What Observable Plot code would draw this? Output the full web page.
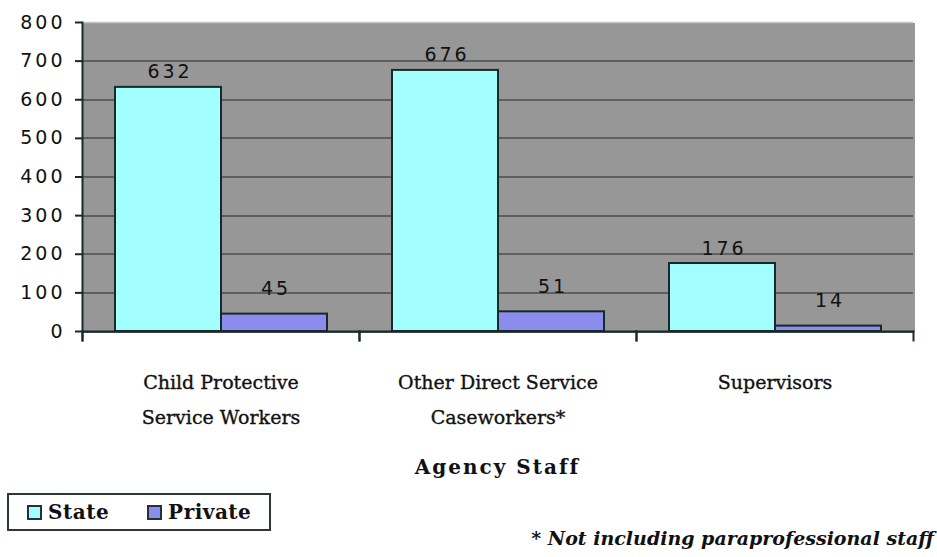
<!DOCTYPE html>
<html><head><meta charset="utf-8">
<script src="https://cdn.jsdelivr.net/npm/d3@7"></script>
<script src="https://cdn.jsdelivr.net/npm/@observablehq/plot@0.6"></script>
<style>
body{margin:0;background:#fff;}
#wrap{position:relative;width:937px;height:557px;overflow:hidden;}
#chart svg{display:block}
#xtitle{position:absolute;left:81px;width:833px;top:457px;text-align:center;font:bold 20px/20px "DejaVu Serif";letter-spacing:2px;color:#111;}
#legend{position:absolute;left:7px;top:493px;width:260px;height:34px;border:2px solid #2b3838;display:flex;align-items:center;font:bold 20px/20px "DejaVu Serif";letter-spacing:0.5px;color:#111;box-sizing:content-box;}
#legend .sw{display:inline-block;width:11px;height:11px;border:2px solid #223333;margin-right:6px;}
#legend .item{display:flex;align-items:center;}
#note{position:absolute;right:3px;top:527px;font:italic bold 19px/22px "DejaVu Serif";color:#111;white-space:nowrap;}
</style></head><body>
<div id="wrap"><div id="chart"></div>
<div id="xtitle">Agency Staff</div>
<div id="legend"></div>
<div id="note">* Not including paraprofessional staff</div>
</div>
<script>
const categories = ["Child Protective\nService Workers", "Other Direct Service\nCaseworkers*", "Supervisors"];
const series = ["State", "Private"];
const stateValues = [632, 676, 176];
const privateValues = [45, 51, 14];
const yTicks = [0, 100, 200, 300, 400, 500, 600, 700, 800];
const colors = ["#a3ffff", "#8c8cee"];

const data = categories.flatMap((c, i) => [
  {category: c, series: "State", value: stateValues[i]},
  {category: c, series: "Private", value: privateValues[i]}
]);

const plotH = 309;
const dark = "#172a2a";
const chart = Plot.plot({
  width: 937, height: 440,
  marginLeft: 81, marginRight: 23, marginTop: 22, marginBottom: 109,
  style: {background: "transparent", overflow: "visible"},
  fx: {domain: categories, padding: 0, label: null, axis: null},
  x: {domain: series, paddingInner: 0, paddingOuter: 0.3, axis: null},
  y: {domain: [0, 800]},
  color: {domain: series, range: colors},
  marks: [
    Plot.frame({fill: "#979797", stroke: "none", insetRight: -1, shapeRendering: "crispEdges"}),
    Plot.gridY(yTicks.filter(t => t < 800), {stroke: "#5f5f5f", strokeOpacity: 1, strokeWidth: 2, shapeRendering: "crispEdges"}),
    Plot.ruleY([800], {stroke: "#c4c4c4", strokeWidth: 1.5}),
    Plot.barY(data, {fx: "category", x: "series", y: "value", fill: "series", stroke: dark, strokeWidth: 2}),
    Plot.text(data.filter(d => d.series === "State"), {fx: "category", x: "series", y: "value", text: d => String(d.value), lineAnchor: "bottom", dy: -9, dx: 1.5, fontSize: 19, fontFamily: "DejaVu Sans", fill: "#111"}),
    Plot.text(data.filter(d => d.series === "Private"), {fx: "category", x: "series", y: "value", text: d => String(d.value), lineAnchor: "bottom", dy: -19, dx: 1.5, fontSize: 19, fontFamily: "DejaVu Sans", fill: "#111"}),
    Plot.ruleY([0], {stroke: dark, strokeWidth: 2}),
    Plot.frame({anchor: "left", facetAnchor: "left", stroke: dark, strokeWidth: 2, insetBottom: -9}),
    Plot.frame({anchor: "left", stroke: dark, strokeWidth: 2, insetTop: plotH, insetBottom: -9}),
    Plot.frame({anchor: "right", stroke: dark, strokeWidth: 2, insetTop: plotH, insetBottom: -9}),
    Plot.axisY({ticks: yTicks, tickSize: 7, tickPadding: 10, strokeWidth: 2, stroke: dark, fontSize: 19, fontFamily: "DejaVu Sans", label: null, fill: "#111"}),
    // category labels under each group
    Plot.text(categories, {fx: d => d, text: d => d, frameAnchor: "bottom", lineAnchor: "top", dy: 33, fontSize: 19, fontFamily: "DejaVu Serif", lineHeight: 1.84, fill: "#111"})
  ]
});
document.getElementById("chart").appendChild(chart);

chart.querySelectorAll("text").forEach(t => {
  if (/[A-Za-z]/.test(t.textContent)) {
    t.style.fontFamily = "'DejaVu Serif', serif";
    t.style.stroke = "#111";
    t.style.strokeWidth = "0.35px";
  } else {
    t.style.fontFamily = "'DejaVu Sans', sans-serif";
    t.style.letterSpacing = "3px";
  }
});

const legend = document.getElementById("legend");
series.forEach((s, i) => {
  const item = document.createElement("div");
  item.className = "item";
  item.style.marginLeft = i === 0 ? "18px" : "38px";
  const sw = document.createElement("span");
  sw.className = "sw";
  sw.style.background = colors[i];
  const t = document.createElement("span");
  t.textContent = s;
  item.appendChild(sw); item.appendChild(t);
  legend.appendChild(item);
});
</script>
</body></html>
